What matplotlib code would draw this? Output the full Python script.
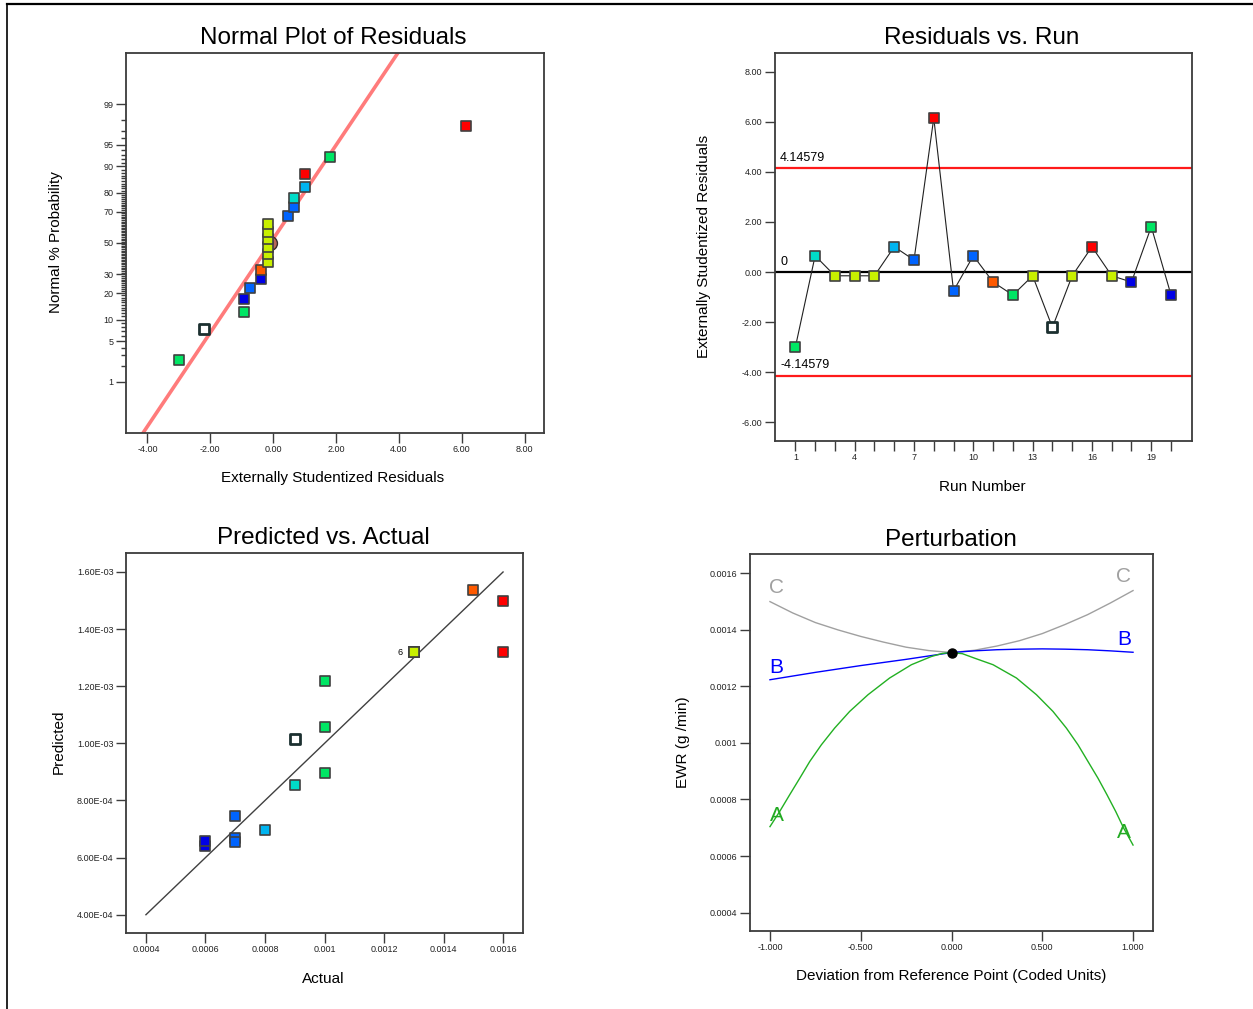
import numpy as np
import matplotlib.pyplot as plt
from matplotlib.lines import Line2D
from statistics import NormalDist

plt.rcParams['font.family'] = ['Liberation Sans', 'DejaVu Sans']

W, H = 1253, 1009

# ---- run data ----
runs = list(range(1, 21))
residuals = [-3.00, 0.65, -0.15, -0.15, -0.15, 1.01, 0.48, 6.15, -0.75, 0.65,
             -0.40, -0.92, -0.15, -2.21, -0.15, 1.01, -0.15, -0.40, 1.81, -0.92]
actual = [0.0010, 0.0009, 0.0013, 0.0013, 0.0013, 0.0008, 0.0007, 0.0016, 0.0007, 0.0007,
          0.0015, 0.0010, 0.0013, 0.0009, 0.0013, 0.0016, 0.0013, 0.0006, 0.0010, 0.0006]
predicted = [0.001220, 0.000855, 0.001319, 0.001319, 0.001319, 0.000698, 0.000667, 0.001319,
             0.000746, 0.000656, 0.001538, 0.001056, 0.001319, 0.001015, 0.001319, 0.001500,
             0.001319, 0.000639, 0.000896, 0.000657]
run_colors = ['#00e664', '#00dcc8', '#c8f000', '#c8f000', '#c8f000', '#00b4f0', '#0064ff',
              '#ff0000', '#0064ff', '#0064ff', '#ff5a00', '#00e664', '#c8f000', '#ffffff',
              '#c8f000', '#ff0000', '#c8f000', '#0000e6', '#00e664', '#0000e6']
selected_run = 14

# normal plot: run order by rank and the plotted % probability
normal_order = [1, 14, 12, 20, 9, 18, 11, 3, 4, 5, 13, 15, 17, 7, 10, 2, 6, 16, 19, 8]
normal_pct = [2.5, 7.5, 12.5, 17.5, 22.5, 27.5, 32.5, 37.5, 42.5, 47.5,
              52.5, 57.5, 62.5, 67.5, 72.5, 77.5, 82.5, 87.5, 92.5, 97.5]
normal_line_mean, normal_line_sd = -0.085, 1.275
limit_t = 4.14579

# perturbation curves
pert_x = [-1.0, -0.875, -0.75, -0.625, -0.5, -0.375, -0.25, -0.125, 0.0,
          0.125, 0.25, 0.375, 0.5, 0.625, 0.75, 0.875, 1.0]
pert_B = [0.001223, 0.001236, 0.001249, 0.001261, 0.001273, 0.001284, 0.001295, 0.001307, 0.001319,
          0.001325, 0.001329, 0.001331, 0.001332, 0.001331, 0.001329, 0.001325, 0.001320]
pert_C = [0.001499, 0.001459, 0.001425, 0.001399, 0.001376, 0.001356, 0.001338, 0.001326, 0.001319,
          0.001327, 0.001342, 0.001361, 0.001386, 0.001418, 0.001453, 0.001494, 0.001538]
pert_A_x = [-1.0, -0.947, -0.892, -0.836, -0.781, -0.717, -0.644, -0.561, -0.460, -0.341,
            -0.221, -0.111, -0.05, 0.0, 0.06, 0.128, 0.229, 0.358, 0.468, 0.559, 0.633,
            0.697, 0.752, 0.807, 0.857, 0.905, 0.949, 1.0]
pert_A = [0.000704, 0.000757, 0.000816, 0.000875, 0.000934, 0.000993, 0.001052, 0.001111,
          0.001170, 0.001229, 0.001276, 0.001305, 0.001316, 0.001319, 0.001315, 0.001299,
          0.001276, 0.001229, 0.001170, 0.001111, 0.001052, 0.000993, 0.000934, 0.000875,
          0.000816, 0.000757, 0.000698, 0.000639]
ref_point = (0.0, 0.001319)

fig = plt.figure(figsize=(W / 100, H / 100), dpi=100)


def px_axes(l, t, r, b):
    return fig.add_axes([l / W, 1 - b / H, (r - l) / W, (b - t) / H])


def style(ax):
    for s in ax.spines.values():
        s.set_color('#3c3c3c')
        s.set_linewidth(1.3)
    ax.tick_params(which='both', direction='out', color='#3c3c3c', width=1,
                   labelsize=6.5, labelcolor='#222222')
    ax.tick_params(which='major', length=7, pad=2)
    ax.tick_params(which='minor', length=3.5)


def ftext(x, y, s, **kw):
    fig.text(x / W, 1 - y / H, s, ha='center', va='center', **kw)


def squares(ax, xs, ys, cols, sel):
    for x, y, c, s in zip(xs, ys, cols, sel):
        if s:
            ax.scatter(x, y, marker='s', s=62, c=c, edgecolors='#1c3030', linewidths=2.0, zorder=5)
        else:
            ax.scatter(x, y, marker='s', s=45, c=c, edgecolors='#404040', linewidths=1.2, zorder=4)


inv = NormalDist().inv_cdf

# ---- Normal plot of residuals ----
ax1 = px_axes(126, 53, 544, 433)
style(ax1)
zline = np.array([-3.4, 3.4])
ax1.plot(normal_line_mean + normal_line_sd * zline, zline, color='#ff7b7b', lw=2.6, zorder=2)
ax1.plot(normal_line_mean, 0.0, 'o', ms=10, color='#b8685a', mec='#3a2a2a', mew=1, zorder=3)
nx = [residuals[r - 1] for r in normal_order]
nz = [inv(p / 100) for p in normal_pct]
nc = [run_colors[r - 1] for r in normal_order]
squares(ax1, nx, nz, nc, [r == selected_run for r in normal_order])
ax1.set_xlim(-4.68, 8.62)
ax1.set_ylim(-3.18, 3.18)
ax1.set_xticks([-4, -2, 0, 2, 4, 6, 8])
ax1.set_xticklabels(['%.2f' % v for v in [-4, -2, 0, 2, 4, 6, 8]])
major_pct = [1, 5, 10, 20, 30, 50, 70, 80, 90, 95, 99]
ax1.set_yticks([inv(p / 100) for p in major_pct])
ax1.set_yticklabels([str(p) for p in major_pct])
ax1.set_yticks([inv(p / 100) for p in range(1, 100) if p not in major_pct], minor=True)
ftext(333, 38, 'Normal Plot of Residuals', fontsize=17.5)
ftext(333, 478, 'Externally Studentized Residuals', fontsize=11)
ftext(56, 242, 'Normal % Probability', fontsize=11, rotation=90)

# ---- Residuals vs run ----
ax2 = px_axes(775, 53, 1192, 441)
style(ax2)
ax2.axhline(limit_t, color='#ff1a1a', lw=1.6, zorder=1)
ax2.axhline(-limit_t, color='#ff1a1a', lw=1.6, zorder=1)
ax2.axhline(0, color='black', lw=1.6, zorder=1)
ax2.plot(runs, residuals, color='#202020', lw=0.8, zorder=3)
squares(ax2, runs, residuals, run_colors, [r == selected_run for r in runs])
tr = ax2.get_yaxis_transform()
ax2.text(0.012, limit_t + 0.18, '%g' % limit_t, transform=tr, fontsize=9, va='bottom', ha='left')
ax2.text(0.012, 0.18, '0', transform=tr, fontsize=9, va='bottom', ha='left')
ax2.text(0.012, -limit_t + 0.18, '%g' % -limit_t, transform=tr, fontsize=9, va='bottom', ha='left')
ax2.set_xlim(-0.03, 21.06)
ax2.set_ylim(-6.75, 8.75)
ax2.set_xticks(range(1, 20, 3))
ax2.set_xticks(runs, minor=True)
ax2.tick_params(axis='x', which='minor', length=7)
ax2.set_yticks(range(-6, 9, 2))
ax2.set_yticklabels(['%.2f' % v for v in range(-6, 9, 2)])
ftext(982, 38, 'Residuals vs. Run', fontsize=17.5)
ftext(982, 487, 'Run Number', fontsize=11)
ftext(704, 246, 'Externally Studentized Residuals', fontsize=11, rotation=90)

# ---- Predicted vs actual ----
ax3 = px_axes(126, 553, 523, 933)
style(ax3)
ax3.plot([0.0004, 0.0016], [0.0004, 0.0016], color='#404040', lw=1.0, zorder=2)
squares(ax3, actual, predicted, run_colors, [r == selected_run for r in runs])
ax3.annotate('6', (0.0013, 0.001319), xytext=(-8, 0), textcoords='offset points',
             ha='right', va='center', fontsize=6.5)
ax3.set_xlim(0.000333, 0.001667)
ax3.set_ylim(0.000336, 0.0016665)
xt = [0.0004, 0.0006, 0.0008, 0.0010, 0.0012, 0.0014, 0.0016]
ax3.set_xticks(xt)
ax3.set_xticklabels(['%g' % v for v in xt])
ax3.set_yticks(xt)
ax3.set_yticklabels(['%.2E' % v for v in xt])
ftext(323, 538, 'Predicted vs. Actual', fontsize=17.5)
ftext(323, 979, 'Actual', fontsize=11)
ftext(59, 742, 'Predicted', fontsize=11, rotation=90)

# ---- Perturbation ----
ax4 = px_axes(750, 554, 1153, 931)
style(ax4)
ax4.plot(pert_x, pert_C, color='#a0a0a0', lw=1.0)
ax4.plot(pert_x, pert_B, color='#0000ff', lw=1.0)
ax4.plot(pert_A_x, pert_A, color='#22b022', lw=1.0)
ax4.plot(*ref_point, 'o', color='black', ms=6.5, zorder=5)
for lab, col, yl, yr in [('C', '#a0a0a0', 0.001548, 0.001587),
                         ('B', '#0000ff', 0.001265, 0.001364),
                         ('A', '#22aa22', 0.000742, 0.000682)]:
    ax4.text(-0.963, yl, lab, color=col, fontsize=15, ha='center', va='center')
    ax4.text(0.949, yr, lab, color=col, fontsize=15, ha='center', va='center')
ax4.set_xlim(-1.11, 1.11)
ax4.set_ylim(0.0003353, 0.0016672)
px = [-1.0, -0.5, 0.0, 0.5, 1.0]
ax4.set_xticks(px)
ax4.set_xticklabels(['%.3f' % v for v in px])
ax4.set_yticks(xt)
ax4.set_yticklabels(['%g' % v for v in xt])
ftext(951, 540, 'Perturbation', fontsize=17.5)
ftext(951, 976, 'Deviation from Reference Point (Coded Units)', fontsize=11)
ftext(683, 742, 'EWR (g /min)', fontsize=11, rotation=90)

# outer frame (top and left edges)
fig.add_artist(Line2D([7 / W, 1], [1 - 3.5 / H, 1 - 3.5 / H], color='black', lw=1.6,
                      transform=fig.transFigure))
fig.add_artist(Line2D([7 / W, 7 / W], [0, 1 - 3.5 / H], color='black', lw=1.2,
                      transform=fig.transFigure))

fig.savefig('out.png', dpi=100)
